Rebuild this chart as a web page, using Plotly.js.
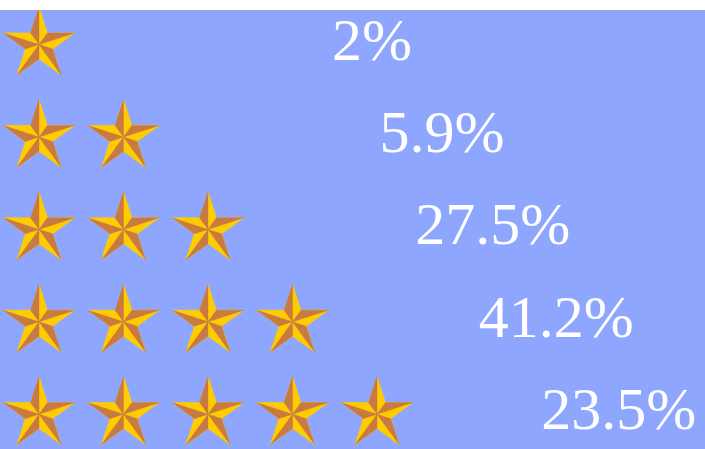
<!DOCTYPE html>
<html>
<head>
<meta charset="utf-8">
<script src="https://cdn.plot.ly/plotly-3.0.1.min.js"></script>
<style>html,body{margin:0;padding:0;background:#fff;}#chart{width:705px;height:449px;}</style>
</head>
<body>
<div id="chart"></div>
<script>
// ---- data ----
const ratings = [1, 2, 3, 4, 5];            // number of stars per row
const percents = [2, 5.9, 27.5, 41.2, 23.5]; // share of each rating
const labels = percents.map(p => p + '%');
const labelX = [4.94, 5.77, 6.37, 7.12, 7.86]; // label anchor, in star-slot units

// ---- style / geometry ----
const W = 705, H = 449, TOP = 10;
const pxX = 84.5;   // px per star slot
const pxY = 92.4;   // px per row
const xr = [1 - 39 / pxX, 1 + (W - 39) / pxX];
const yr = [1 + (H - 44.6) / pxY, 1 - (44.6 - TOP) / pxY];
const R = 37.6, rIn = R * 0.381966;
const GOLD = '#ffcc00', BROWN = '#c87a40', BG = '#8fa6fe';

function pt(cx, cy, ang, rad) {
  const a = ang * Math.PI / 180;
  return [cx + rad * Math.cos(a) / pxX, cy - rad * Math.sin(a) / pxY];
}

const goldX = [], goldY = [], brX = [], brY = [];
ratings.forEach((n, row) => {
  const cy = row + 1;
  for (let k = 1; k <= n; k++) {
    const cx = k;
    // full star outline (gold)
    for (let i = 0; i < 10; i++) {
      const ang = 90 - 36 * i;
      const p = pt(cx, cy, ang, i % 2 === 0 ? R : rIn);
      goldX.push(p[0]); goldY.push(p[1]);
    }
    goldX.push(null); goldY.push(null);
    // brown half of each point
    for (let i = 0; i < 5; i++) {
      const tip = 90 - 72 * i;
      const c = [cx, cy], a = pt(cx, cy, tip + 36, rIn), b = pt(cx, cy, tip, R);
      brX.push(c[0], a[0], b[0], c[0], null);
      brY.push(c[1], a[1], b[1], c[1], null);
    }
  }
});

const traces = [
  {x: goldX, y: goldY, type: 'scatter', mode: 'lines', fill: 'toself', fillcolor: GOLD,
   line: {width: 0.6, color: GOLD}, hoverinfo: 'skip', showlegend: false},
  {x: brX, y: brY, type: 'scatter', mode: 'lines', fill: 'toself', fillcolor: BROWN,
   line: {width: 0.4, color: BROWN}, hoverinfo: 'skip', showlegend: false},
  {x: labelX, y: ratings, type: 'scatter', mode: 'text', text: labels,
   textposition: 'middle center',
   textfont: {family: 'Liberation Serif, serif', size: 60, color: '#ffffff'},
   hoverinfo: 'skip', showlegend: false}
];

const layout = {
  width: W, height: H,
  margin: {l: 0, r: 0, t: TOP, b: 0, pad: 0},
  paper_bgcolor: '#ffffff', plot_bgcolor: BG,
  xaxis: {range: xr, visible: false, fixedrange: true},
  yaxis: {range: yr, visible: false, fixedrange: true},
  showlegend: false
};

Plotly.newPlot('chart', traces, layout, {displayModeBar: false, staticPlot: true});
</script>
</body>
</html>
